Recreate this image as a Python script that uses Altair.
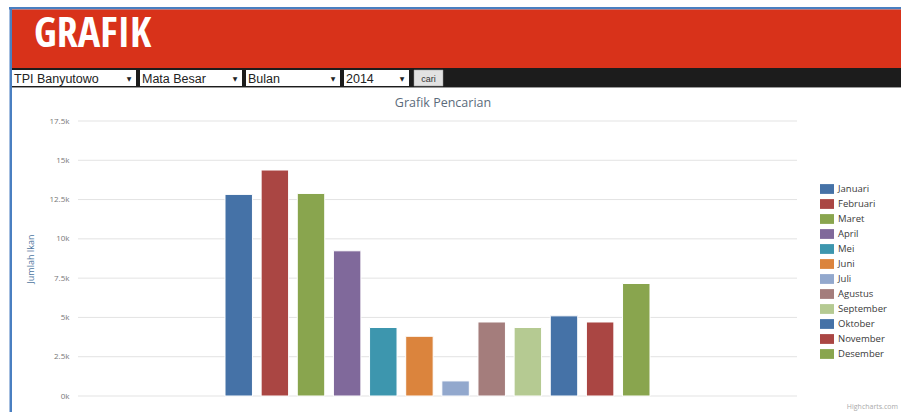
import altair as alt
import pandas as pd

# ---- data ----
months = ["Januari", "Februari", "Maret", "April", "Mei", "Juni", "Juli",
          "Agustus", "September", "Oktober", "November", "Desember"]
values = [12830, 14380, 12890, 9240, 4360, 3800, 960, 4710, 4360, 5100, 4710, 7160]
colors = ["#4572A7", "#AA4643", "#89A54E", "#80699B", "#3D96AE", "#DB843D",
          "#92A8CD", "#A47D7C", "#B5CA92", "#4572A7", "#AA4643", "#89A54E"]
y_ticks = [0, 2500, 5000, 7500, 10000, 12500, 15000, 17500]
selects = ["TPI Banyutowo", "Mata Besar", "Bulan", "2014"]

df = pd.DataFrame({"bulan": months, "jumlah": values})
grid_df = pd.DataFrame({"v": y_ticks})

# plot area geometry (page coordinates)
PL, PT, PW, PH = 78, 121, 719, 275

FONT = "Open Sans"

yscale = alt.Scale(domain=[0, 17500], nice=False)
yaxis = alt.Axis(values=y_ticks, labelExpr="datum.value/1000 + 'k'",
                 domain=False, ticks=False, grid=False,
                 labelColor="#777", labelFontSize=8, labelFont=FONT,
                 labelPadding=9,
                 title="Jumlah Ikan", titleFont=FONT, titleFontSize=9,
                 titleFontWeight="normal", titleColor="#4d759e",
                 titleX=-48, titleY=PH / 2, titleAngle=-90,
                 titleAlign="center", titleBaseline="middle")

grid = alt.Chart(grid_df).mark_rule(color="#e3e3e3", strokeWidth=1).encode(
    x=alt.value(0), x2=alt.value(PW),
    y=alt.Y("v:Q", scale=yscale, axis=yaxis, title="Jumlah Ikan"),
)

bars = alt.Chart(df).mark_bar(stroke="white", strokeWidth=1).encode(
    x=alt.X("bulan:N", sort=months, axis=None,
            scale=alt.Scale(range=[147, 572], paddingInner=0.24, paddingOuter=0)),
    y=alt.Y("jumlah:Q", scale=yscale, axis=yaxis, title="Jumlah Ikan"),
    color=alt.Color("bulan:N", sort=months,
                    scale=alt.Scale(domain=months, range=colors),
                    legend=alt.Legend(orient="none", legendX=742, legendY=61,
                                      title=None,
                                      symbolType="M-1,-0.7L1,-0.7L1,0.7L-1,0.7Z",
                                      symbolSize=196, symbolStrokeWidth=0,
                                      symbolOpacity=1,
                                      labelFont=FONT, labelFontSize=9.5,
                                      labelColor="#3a3a3a", labelOffset=4,
                                      rowPadding=3)),
)

one = alt.Data(values=[{}])


def px(x):
    return x - PL


def py(y):
    return y - PT


layers = [grid, bars]

# blue page border
layers.append(alt.Chart(one).mark_rect(color="#4a7fc1").encode(
    x=alt.value(px(9)), x2=alt.value(px(901)), y=alt.value(py(7)), y2=alt.value(py(9.5))))
layers.append(alt.Chart(one).mark_rect(color="#4a7fc1").encode(
    x=alt.value(px(9.5)), x2=alt.value(px(12)), y=alt.value(py(7)), y2=alt.value(py(412))))
# red header
layers.append(alt.Chart(one).mark_rect(color="#d8321a").encode(
    x=alt.value(px(12)), x2=alt.value(px(901)), y=alt.value(py(9.5)), y2=alt.value(py(68))))
# dark toolbar
layers.append(alt.Chart(one).mark_rect(color="#1c1c1c").encode(
    x=alt.value(px(12)), x2=alt.value(px(901)), y=alt.value(py(68)), y2=alt.value(py(87))))
layers.append(alt.Chart(one).mark_rect(color="#9a9a9a").encode(
    x=alt.value(px(12)), x2=alt.value(px(901)), y=alt.value(py(87)), y2=alt.value(py(88))))
# header text
layers.append(alt.Chart(one).mark_text(
    text="GRAFIK", font="Open Sans Condensed, Roboto Condensed, sans-serif",
    fontSize=42, fontWeight="bold", color="white", align="left", baseline="alphabetic"
).encode(x=alt.value(px(34)), y=alt.value(py(47))))

# select boxes
box_x = [(12, 136), (140, 242), (246, 340), (344, 409)]
for (x0, x1), label in zip(box_x, selects):
    layers.append(alt.Chart(one).mark_rect(color="white").encode(
        x=alt.value(px(x0)), x2=alt.value(px(x1)), y=alt.value(py(70)), y2=alt.value(py(86))))
    layers.append(alt.Chart(one).mark_text(
        text=label, font="Liberation Sans, Arial", fontSize=12.5, color="#222",
        align="left", baseline="middle").encode(
        x=alt.value(px(x0 + 2)), y=alt.value(py(78.5))))
    layers.append(alt.Chart(one).mark_text(
        text="▼", font="DejaVu Sans", fontSize=6, color="#222",
        align="center", baseline="middle").encode(
        x=alt.value(px(x1 - 7)), y=alt.value(py(78.5))))
# cari button
layers.append(alt.Chart(one).mark_rect(color="#e2e2e2", stroke="#999", strokeWidth=0.5).encode(
    x=alt.value(px(414)), x2=alt.value(px(443)), y=alt.value(py(70)), y2=alt.value(py(86))))
layers.append(alt.Chart(one).mark_text(
    text="cari", font="Liberation Sans, Arial", fontSize=9, color="#333",
    align="center", baseline="middle").encode(
    x=alt.value(px(428.5)), y=alt.value(py(79))))
# chart title
layers.append(alt.Chart(one).mark_text(
    text="Grafik Pencarian", font=FONT, fontSize=12.5, color="#5b6b7b",
    align="center", baseline="middle").encode(
    x=alt.value(px(443)), y=alt.value(py(103))))
# credit
layers.append(alt.Chart(one).mark_text(
    text="Highcharts.com", font=FONT, fontSize=7, color="#aaa",
    align="right", baseline="middle").encode(
    x=alt.value(px(898)), y=alt.value(py(407))))

chart = alt.layer(*layers).properties(
    width=PW, height=PH,
    autosize=alt.AutoSizeParams(type="none"),
    padding={"left": PL, "top": PT, "right": 901 - PL - PW, "bottom": 412 - PT - PH},
).configure(background="white").configure_view(stroke=None)

chart.save("out.html", embed_options={"renderer": "svg", "actions": False})
